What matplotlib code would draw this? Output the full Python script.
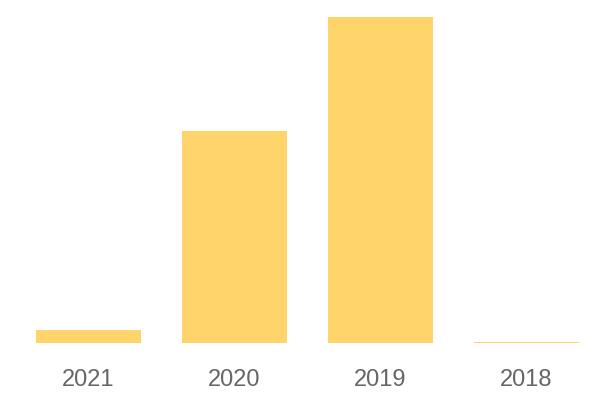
import matplotlib.pyplot as plt

years = ["2021", "2020", "2019", "2018"]
values = [13, 212, 326, 1.5]

bar_color = "#FED46B"
label_color = "#666666"


def main():
    fig = plt.figure(figsize=(6, 4), dpi=100)
    ax = fig.add_axes([0.026, 0.1425, 0.973, 0.815])
    ax.bar(range(len(years)), values, width=0.72, color=bar_color)
    ax.set_xlim(-0.5, len(years) - 0.5)
    ax.set_ylim(0, max(values))
    ax.set_xticks(range(len(years)))
    ax.set_xticklabels(years, fontsize=17, color=label_color, family="Liberation Sans")
    ax.tick_params(axis="x", length=0, pad=19)
    ax.set_yticks([])
    for s in ax.spines.values():
        s.set_visible(False)
    fig.savefig("out.png")
    plt.close(fig)


if __name__ == '__main__':
    main()
